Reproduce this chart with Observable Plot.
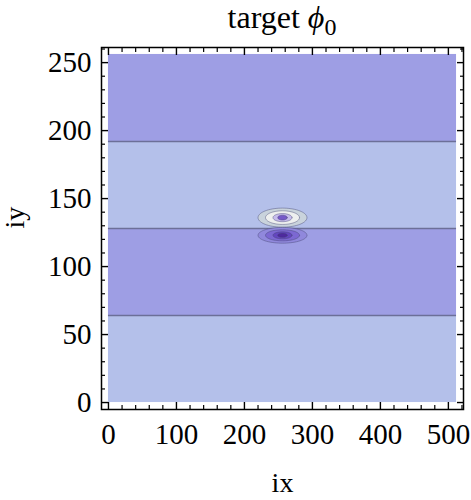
<!DOCTYPE html>
<html><head><meta charset="utf-8">
<script src="https://cdn.jsdelivr.net/npm/d3@7"></script>
<script src="https://cdn.jsdelivr.net/npm/@observablehq/plot@0.6"></script>
<style>body{margin:0;background:#fff} svg{display:block}</style>
</head><body><div id="chart"></div>
<script>
// ---- data ----
const xExtent = [0, 512];
const yExtent = [0, 256];
const bandEdges = [0, 64, 128, 192, 256];
const bandLevels = ["light", "dark", "light", "dark"];
const contourLevels = [64, 128, 192];
const xMajorTicks = [0, 100, 200, 300, 400, 500];
const xMinorTicks = [20, 40, 60, 80, 120, 140, 160, 180, 220, 240, 260, 280, 320, 340, 360, 380, 420, 440, 460, 480, 520];
const yMajorTicks = [0, 50, 100, 150, 200, 250];
const yMinorTicks = [10, 20, 30, 40, 60, 70, 80, 90, 110, 120, 130, 140, 160, 170, 180, 190, 210, 220, 230, 240, 260];
// blobs (upper positive lobe, lower negative lobe)
const blobX = [256, 256];
const blobY = [136, 123];
const ringBlob = [0, 0, 0, 0, 1, 1, 1, 1];
const ringRx = [36, 25, 14, 7, 36, 25, 14, 7];
const ringRy = [7.0, 5.0, 3.0, 1.8, 5.8, 4.1, 2.6, 1.5];
const ringLevel = ["u1", "u2", "u3", "u4", "l1", "l2", "l3", "l4"];
const levelNames = ["light", "dark", "u1", "u2", "u3", "u4", "l1", "l2", "l3", "l4"];
const levelColors = ["#b4c0ea", "#9e9ee4", "#c9d3dc", "#eef0ef", "#c6bcec", "#7658c8", "#9088dc", "#7c68d2", "#6446bf", "#4e2a9e"];
const titleText = "target ";
const titleSymbol = "ϕ";
const titleSub = "0";

// ---- tables ----
const bands = bandLevels.map((level, i) => ({y1: bandEdges[i], y2: bandEdges[i + 1], level}));
const ringPts = [];
ringBlob.forEach((b, i) => {
  const n = 72;
  for (let k = 0; k < n; k++) {
    const t = 2 * Math.PI * k / n;
    ringPts.push({id: i, level: ringLevel[i], x: blobX[b] + ringRx[i] * Math.cos(t), y: blobY[b] + ringRy[i] * Math.sin(t)});
  }
});
const px = 0.02 * (xExtent[1] - xExtent[0]);
const py = 0.02 * (yExtent[1] - yExtent[0]);
const font = "'Liberation Serif', 'Times New Roman', serif";
const W = 471, H = 500, mL = 101, mR = 8, mT = 47, mB = 91;

const plot = Plot.plot({
  width: W, height: H,
  marginLeft: mL, marginRight: mR, marginTop: mT, marginBottom: mB,
  style: {fontFamily: font, fontSize: "29px", color: "#000", background: "#fff", overflow: "visible"},
  x: {domain: [xExtent[0] - px, xExtent[1] + px], axis: null},
  y: {domain: [yExtent[0] - py, yExtent[1] + py], axis: null},
  color: {type: "ordinal", domain: levelNames, range: levelColors},
  marks: [
    Plot.rect(bands, {x1: () => xExtent[0], x2: () => xExtent[1], y1: "y1", y2: "y2", fill: "level"}),
    Plot.ruleY(contourLevels, {x1: xExtent[0], x2: xExtent[1], stroke: "#6c6f98", strokeWidth: 1.3}),
    Plot.line(ringPts, {x: "x", y: "y", z: "id", fill: "level", stroke: "#464670", strokeOpacity: 0.55, strokeWidth: 0.8, curve: "linear-closed"}),
    Plot.frame({stroke: "#000", strokeWidth: 1.5}),
    Plot.axisX(xMajorTicks, {anchor: "bottom", tickSize: 0, tickPadding: 14, fontSize: 29, label: null}),
    Plot.axisX(xMajorTicks, {anchor: "bottom", tickSize: -7, tickFormat: () => "", label: null, strokeWidth: 1.4}),
    Plot.axisX(xMinorTicks, {anchor: "bottom", tickSize: -4, tickFormat: () => "", label: null, strokeWidth: 1.2}),
    Plot.axisX(xMajorTicks, {anchor: "top", tickSize: -7, tickFormat: () => "", label: null, strokeWidth: 1.4}),
    Plot.axisX(xMinorTicks, {anchor: "top", tickSize: -4, tickFormat: () => "", label: null, strokeWidth: 1.2}),
    Plot.axisY(yMajorTicks, {anchor: "left", tickSize: 0, tickPadding: 10, fontSize: 29, label: null}),
    Plot.axisY(yMajorTicks, {anchor: "left", tickSize: -7, tickFormat: () => "", label: null, strokeWidth: 1.4}),
    Plot.axisY(yMinorTicks, {anchor: "left", tickSize: -4, tickFormat: () => "", label: null, strokeWidth: 1.2}),
    Plot.axisY(yMajorTicks, {anchor: "right", tickSize: -7, tickFormat: () => "", label: null, strokeWidth: 1.4}),
    Plot.axisY(yMinorTicks, {anchor: "right", tickSize: -4, tickFormat: () => "", label: null, strokeWidth: 1.2}),
    Plot.text(["ix"], {frameAnchor: "bottom", dy: 74, fontSize: 28, lineAnchor: "middle"}),
    Plot.text(["iy"], {frameAnchor: "left", dx: -86, fontSize: 28, rotate: -90, lineAnchor: "middle"})
  ]
});
document.getElementById("chart").appendChild(plot);

const svg = d3.select(plot);
const t = svg.append("text")
  .attr("x", (mL + W - mR) / 2).attr("y", 28)
  .attr("text-anchor", "middle").attr("font-family", font).attr("font-size", 32).attr("fill", "#000");
t.append("tspan").text(titleText);
t.append("tspan").attr("font-style", "italic").text(titleSymbol);
t.append("tspan").attr("font-size", 24).attr("dy", 7).text(titleSub);
</script></body></html>
